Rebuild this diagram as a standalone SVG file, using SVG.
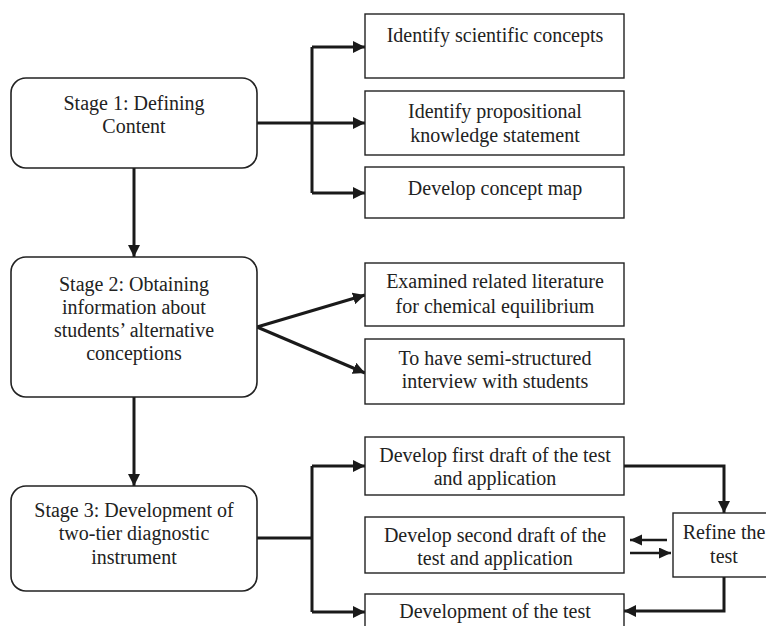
<svg xmlns="http://www.w3.org/2000/svg" width="766" height="626" viewBox="0 0 766 626">
<style>
.stage{fill:#fff;stroke:#222;stroke-width:1.6}
.box{fill:#fff;stroke:#222;stroke-width:1.4}
text{font-family:'Liberation Serif','DejaVu Serif',serif;font-size:20px;fill:#222;text-anchor:middle}
.c{fill:none;stroke:#1a1a1a;stroke-width:3;stroke-linejoin:miter}
.cs{fill:none;stroke:#1a1a1a;stroke-width:2.5}
</style>
<defs>
<marker id="ah" markerUnits="userSpaceOnUse" markerWidth="14" markerHeight="12" refX="12" refY="6" orient="auto"><path d="M0,0 L12,6 L0,12 z" fill="#1a1a1a"/></marker>
<marker id="as" markerUnits="userSpaceOnUse" markerWidth="14" markerHeight="12" refX="12" refY="5.5" orient="auto"><path d="M0,0 L12,5.5 L0,11 z" fill="#1a1a1a"/></marker>
</defs>
<rect width="766" height="626" fill="#fff"/>
<g id="connectors">
<path class="c" d="M134,168 V257" marker-end="url(#ah)"/>
<path class="c" d="M134,397 V486" marker-end="url(#ah)"/>
<path class="c" d="M257,123 H312"/>
<path class="c" d="M312,47 V193"/>
<path class="c" d="M312,47 H365" marker-end="url(#ah)"/>
<path class="c" d="M312,123 H365" marker-end="url(#ah)"/>
<path class="c" d="M312,193 H365" marker-end="url(#ah)"/>
<path class="c" d="M257,327 L365,295" marker-end="url(#ah)"/>
<path class="c" d="M257,327 L365,373" marker-end="url(#ah)"/>
<path class="c" d="M257,538 H312"/>
<path class="c" d="M312,466 V612"/>
<path class="c" d="M312,466 H365" marker-end="url(#ah)"/>
<path class="c" d="M312,612 H365" marker-end="url(#ah)"/>
<path class="c" d="M624,466 H724 V513" marker-end="url(#ah)"/>
<path class="c" d="M724,577 V611 H624" marker-end="url(#ah)"/>
<path class="cs" d="M667,540 H630" marker-end="url(#as)"/>
<path class="cs" d="M630,553 H671" marker-end="url(#as)"/>
</g>
<g id="stage1">
<rect class="stage" x="11" y="78" width="246" height="90" rx="15"/>
<text x="134" y="110">Stage 1: Defining</text>
<text x="134" y="133">Content</text>
</g>
<g id="stage2">
<rect class="stage" x="11" y="257" width="246" height="140" rx="15"/>
<text x="134" y="291">Stage 2: Obtaining</text>
<text x="134" y="314">information about</text>
<text x="134" y="337">students’ alternative</text>
<text x="134" y="360">conceptions</text>
</g>
<g id="stage3">
<rect class="stage" x="11" y="486" width="246" height="105" rx="15"/>
<text x="134" y="517">Stage 3: Development of</text>
<text x="134" y="540">two-tier diagnostic</text>
<text x="134" y="564">instrument</text>
</g>
<g id="b1">
<rect class="box" x="365" y="14" width="259" height="64"/>
<text x="495" y="42">Identify scientific concepts</text>
</g>
<g id="b2">
<rect class="box" x="365" y="91" width="259" height="64"/>
<text x="495" y="118">Identify propositional</text>
<text x="495" y="142">knowledge statement</text>
</g>
<g id="b3">
<rect class="box" x="365" y="167" width="259" height="51"/>
<text x="495" y="195">Develop concept map</text>
</g>
<g id="b4">
<rect class="box" x="365" y="263" width="259" height="63"/>
<text x="495" y="288">Examined related literature</text>
<text x="495" y="313">for chemical equilibrium</text>
</g>
<g id="b5">
<rect class="box" x="365" y="339" width="259" height="65"/>
<text x="495" y="365">To have semi-structured</text>
<text x="495" y="388">interview with students</text>
</g>
<g id="b6">
<rect class="box" x="365" y="437" width="259" height="58"/>
<text x="495" y="462">Develop first draft of the test</text>
<text x="495" y="485">and application</text>
</g>
<g id="b7">
<rect class="box" x="365" y="517" width="259" height="56"/>
<text x="495" y="542">Develop second draft of the</text>
<text x="495" y="565">test and application</text>
</g>
<g id="b8">
<rect class="box" x="365" y="594" width="259" height="50"/>
<text x="495" y="618">Development of the test</text>
</g>
<g id="refine">
<rect class="box" x="673" y="513" width="105" height="64"/>
<text x="724" y="539">Refine the</text>
<text x="724" y="563">test</text>
</g>
</svg>
